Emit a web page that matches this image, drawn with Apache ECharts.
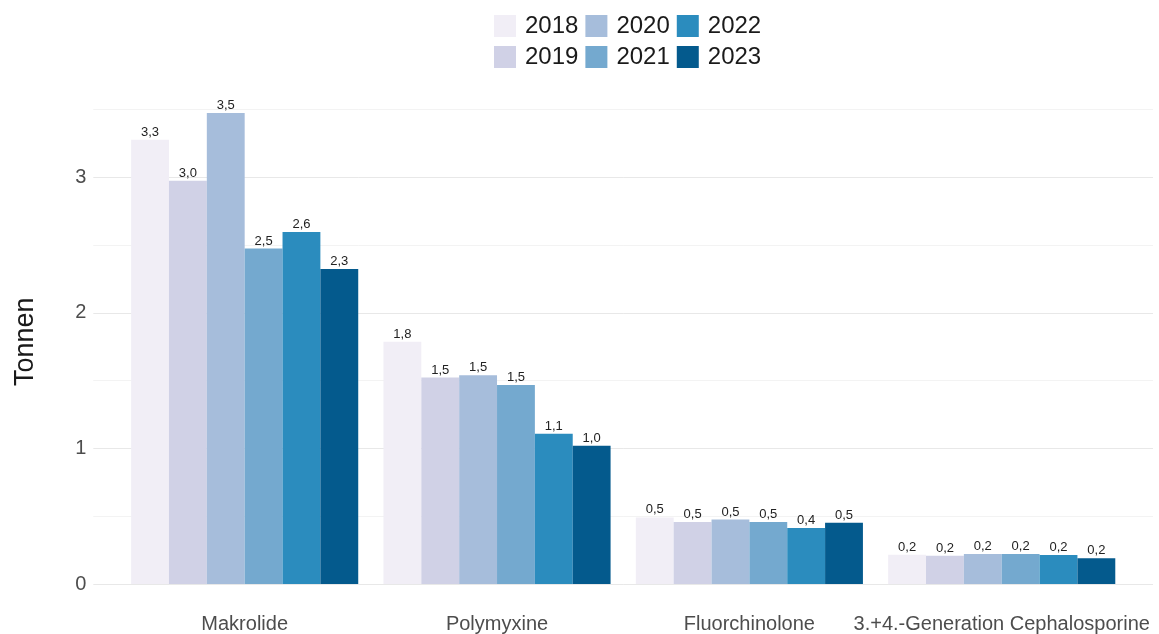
<!DOCTYPE html>
<html>
<head>
<meta charset="utf-8">
<script src="https://cdn.jsdelivr.net/npm/echarts@6/dist/echarts.min.js"></script>
<style>
  html, body { margin: 0; padding: 0; background: #fff; }
  #chart { width: 1159px; height: 634px; }
</style>
</head>
<body>
<div id="chart"></div>
<script>
// Wirkstoffklassen und Mengen (Tonnen) je Jahr
const categories = ['Makrolide', 'Polymyxine', 'Fluorchinolone', '3.+4.-Generation Cephalosporine'];
const years = ['2018', '2019', '2020', '2021', '2022', '2023'];

const v2018 = [3.275, 1.786, 0.491, 0.216];
const v2019 = [2.973, 1.523, 0.458, 0.209];
const v2020 = [3.472, 1.540, 0.476, 0.221];
const v2021 = [2.474, 1.467, 0.457, 0.221];
const v2022 = [2.595, 1.108, 0.412, 0.214];
const v2023 = [2.322, 1.019, 0.452, 0.189];

const yTicks = ['0', '1', '2', '3'];

const colors = ['#f1eef6', '#d0d1e6', '#a6bddb', '#74a9cf', '#2b8cbe', '#045a8d'];
const values = [v2018, v2019, v2020, v2021, v2022, v2023];

const font = 'Liberation Sans, Arial, sans-serif';

var chart = echarts.init(document.getElementById('chart'));

let series = years.map(function (y, i) {
  return {
    name: y,
    type: 'bar',
    xAxisIndex: 1,
    yAxisIndex: 1,
    data: values[i],
    barGap: '0%',
    barCategoryGap: '10%',
    itemStyle: { color: colors[i] },
    label: {
      show: true,
      position: 'top',
      distance: 1,
      fontSize: 13,
      color: '#222',
      fontFamily: font,
      formatter: function (p) { return p.value.toFixed(1).replace('.', ','); }
    }
  };
});

var option = {
  animation: false,
  backgroundColor: '#ffffff',
  textStyle: { fontFamily: font },
  color: colors,
  legend: {
    orient: 'vertical',
    left: 494,
    top: 14,
    height: 58,
    padding: 0,
    itemWidth: 22,
    itemHeight: 22,
    itemGap: 7,
    icon: 'rect',
    data: years,
    selectedMode: false,
    textStyle: { fontSize: 24, color: '#1a1a1a', lineHeight: 22, padding: [0, 0, 0, 4], fontFamily: font }
  },
  grid: [
    { left: 93.3, right: 6, top: 109.3, bottom: 49.7 },
    { left: 118.5, right: 31.1, top: 109.3, bottom: 49.7 }
  ],
  xAxis: [
    { type: 'category', gridIndex: 0, data: [''], show: false },
    {
      type: 'category', gridIndex: 1, data: categories,
      axisLine: { show: false }, axisTick: { show: false },
      axisLabel: { interval: 0, margin: 30, fontSize: 20, color: '#4d4d4d', fontFamily: font }
    }
  ],
  yAxis: [
    {
      type: 'value', gridIndex: 0, min: 0, max: 3.5, interval: 0.5,
      name: 'Tonnen', nameLocation: 'middle', nameGap: 54, nameRotate: 90,
      nameTextStyle: { fontSize: 27, color: '#1a1a1a', fontFamily: font, padding: [0, 0, 0, 10] },
      axisLine: { show: false }, axisTick: { show: false },
      axisLabel: {
        margin: 7, fontSize: 20, color: '#4d4d4d', fontFamily: font,
        formatter: function (v) { return yTicks.indexOf(String(v)) >= 0 ? String(v) : ''; }
      },
      splitLine: { show: true, lineStyle: { color: ['#e8e8e8', '#f3f3f3'], width: 1 } }
    },
    { type: 'value', gridIndex: 1, min: 0, max: 3.5, show: false, splitLine: { show: false } }
  ],
  series: series
};

chart.setOption(option);
</script>
</body>
</html>
